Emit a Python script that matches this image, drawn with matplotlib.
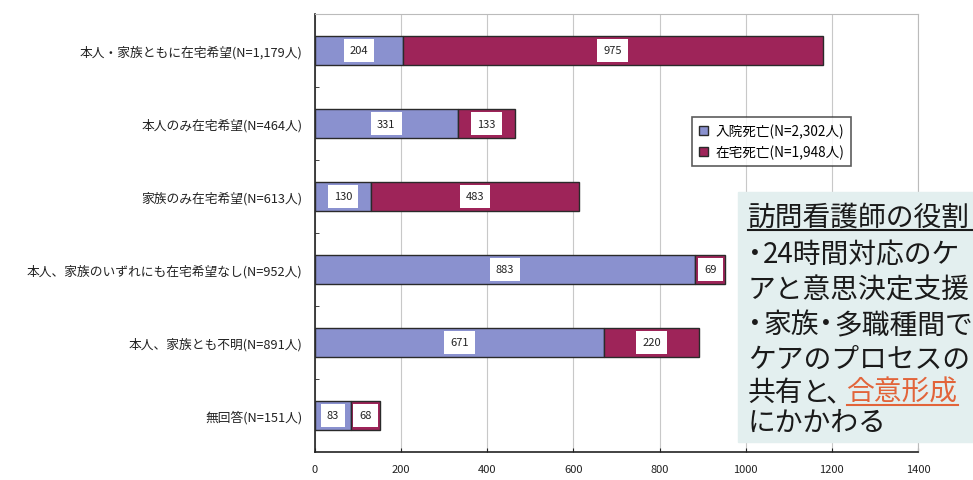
import matplotlib
matplotlib.use("Agg")
import matplotlib.pyplot as plt
from matplotlib.patches import Patch

plt.rcParams['font.family'] = ['Noto Sans CJK JP', 'DejaVu Sans']

# data
categories = [
    "本人・家族ともに在宅希望(N=1,179人)",
    "本人のみ在宅希望(N=464人)",
    "家族のみ在宅希望(N=613人)",
    "本人、家族のいずれにも在宅希望なし(N=952人)",
    "本人、家族とも不明(N=891人)",
    "無回答(N=151人)",
]
hospital = [204, 331, 130, 883, 671, 83]
home = [975, 133, 483, 69, 220, 68]
series_names = ["入院死亡(N=2,302人)", "在宅死亡(N=1,948人)"]
x_ticks = [0, 200, 400, 600, 800, 1000, 1200, 1400]

BLUE = "#8A91CF"
MAROON = "#9E2459"
EDGE = "#2A2A2A"
W, H = 973, 481

fig = plt.figure(figsize=(W / 100, H / 100), dpi=100)
fig.patch.set_facecolor("white")
ax = fig.add_axes([315 / W, 1 - 453 / H, (918 - 315) / W, (453 - 15) / H])

ypos = list(range(len(categories)))
ax.barh(ypos, hospital, height=0.41, color=BLUE, edgecolor=EDGE, linewidth=1.0, zorder=3)
ax.barh(ypos, home, left=hospital, height=0.41, color=MAROON, edgecolor=EDGE,
        linewidth=1.0, zorder=3)

# value labels in white boxes
for y, h, m in zip(ypos, hospital, home):
    for cx, v in ((h / 2, h), (h + m / 2, m)):
        ax.text(cx, y, str(v), ha="center", va="center", fontsize=8, color="#222222",
                zorder=4, bbox=dict(boxstyle="square,pad=0.55", fc="white", ec="none"))

ax.set_xlim(0, 1400)
ax.set_ylim(5.5, -0.5)
ax.set_xticks(x_ticks)
ax.set_xticklabels([str(t) for t in x_ticks], fontsize=8, color="#222222")
ax.set_yticks(ypos)
ax.set_yticklabels(categories, fontsize=9.2, color="#222222")
ax.set_yticks([i - 0.5 for i in range(1, len(categories))], minor=True)
ax.tick_params(axis="y", which="major", length=0, pad=9)
ax.tick_params(axis="y", which="minor", direction="in", length=3, color="#222222")
ax.tick_params(axis="x", direction="in", length=3, pad=9, color="#222222")

ax.grid(axis="x", color="#C8C8C8", linewidth=0.8, zorder=0)
for s in ("top", "right"):
    ax.spines[s].set_color("#BBBBBB")
for s in ("left", "bottom"):
    ax.spines[s].set_color("#222222")
    ax.spines[s].set_linewidth(1.2)

handles = [Patch(facecolor=BLUE, edgecolor=EDGE), Patch(facecolor=MAROON, edgecolor=EDGE)]
leg = ax.legend(handles, series_names, loc="upper left",
                bbox_to_anchor=((692 - 315) / 603, 1 - (118 - 15) / 438),
                fontsize=9.8, frameon=True, fancybox=False, handlelength=0.7,
                handleheight=0.7, handletextpad=0.5, borderpad=0.5, labelspacing=0.45,
                borderaxespad=0)
leg.get_frame().set_edgecolor("#333333")
leg.get_frame().set_linewidth(1.2)

# text box on the right, drawn above the axes
fig.add_artist(plt.Rectangle((738 / W, 1 - 443 / H), (W - 738) / W, (443 - 193) / H,
                             transform=fig.transFigure, color="#E3EFEF", zorder=5))

fs = 20
CELL = fs * 100 / 72
renderer = fig.canvas.get_renderer()


def put_line(parts, x0, yy):
    """Place a line of text piece by piece; '・' and '、' take half a cell."""
    x = x0
    for txt, color in parts:
        run = ""
        pieces = []
        for ch in txt:
            if ch in "・、":
                if run:
                    pieces.append((run, False))
                    run = ""
                pieces.append((ch, True))
            else:
                run += ch
        if run:
            pieces.append((run, False))
        for s, narrow in pieces:
            if narrow:
                off = -CELL * 0.25 if s == "・" else -CELL * 0.22
                fig.text((x + off) / W, 1 - yy / H, s, fontsize=fs, ha="left",
                         va="center", color=color, zorder=6)
                x += CELL * 0.55
            else:
                t = fig.text(x / W, 1 - yy / H, s, fontsize=fs, ha="left", va="center",
                             color=color, zorder=6)
                x += t.get_window_extent(renderer).width
    return x


DARK = "#1A1A1A"
ORANGE = "#E2643A"
lines = [
    [("訪問看護師の役割", DARK)],
    [("・24時間対応のケ", DARK)],
    [("アと意思決定支援", DARK)],
    [("・家族・多職種間で", DARK)],
    [("ケアのプロセスの", DARK)],
    [("共有と、", DARK), ("合意形成", ORANGE)],
    [("にかかわる", DARK)],
]
line_y = [218, 255, 290, 325, 360, 393, 423]
X0 = 748
for parts, yy in zip(lines, line_y):
    put_line(parts, X0, yy)

# underline for heading
fig.add_artist(plt.Line2D([X0 / W, 1.0], [1 - 231 / H] * 2, color=DARK, linewidth=1.5,
                          zorder=6))

# underline for the orange words
tmp = fig.text(0, 0, "共有と", fontsize=fs)
x_start = X0 + tmp.get_window_extent(renderer).width + CELL * 0.55
tmp.remove()
tmp = fig.text(0, 0, "合意形成", fontsize=fs)
x_end = x_start + tmp.get_window_extent(renderer).width
tmp.remove()
fig.add_artist(plt.Line2D([x_start / W, x_end / W], [1 - 406 / H] * 2, color=ORANGE,
                          linewidth=1.5, zorder=6))

fig.savefig("out.png", dpi=100, facecolor="white")
plt.close(fig)
